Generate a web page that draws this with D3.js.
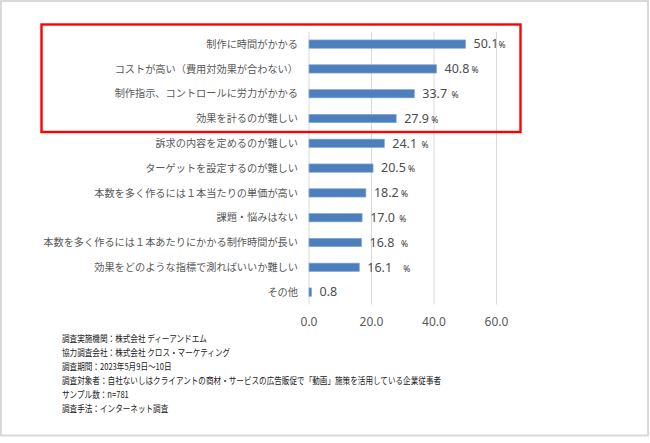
<!DOCTYPE html>
<html>
<head>
<meta charset="utf-8">
<script src="https://d3js.org/d3.v7.min.js"></script>
<style>
  body { margin: 0; background: #fff; }
  text { font-family: "Noto Sans CJK JP", "Noto Sans", sans-serif; }
  text.num { font-family: "Noto Sans", "Open Sans", sans-serif; }
</style>
</head>
<body>
<div id="chart"></div>
<script>
  var categories = [
    "制作に時間がかかる",
    "コストが高い（費用対効果が合わない）",
    "制作指示、コントロールに労力がかかる",
    "効果を計るのが難しい",
    "訴求の内容を定めるのが難しい",
    "ターゲットを設定するのが難しい",
    "本数を多く作るには１本当たりの単価が高い",
    "課題・悩みはない",
    "本数を多く作るには１本あたりにかかる制作時間が長い",
    "効果をどのような指標で測ればいいか難しい",
    "その他"
  ];
  var values = [50.1, 40.8, 33.7, 27.9, 24.1, 20.5, 18.2, 17.0, 16.8, 16.1, 0.8];
  var pctSuffix = ["%", " %", "  %", " %", "  %", " %", " %", "  %", "   %", "     %", ""];
  var xTicks = [0, 20, 40, 60];
  var notes = [
    "調査実施機関：株式会社 ディーアンドエム",
    "協力調査会社：株式会社 クロス・マーケティング",
    "調査期間：2023年5月9日～10日",
    "調査対象者：自社ないしはクライアントの商材・サービスの広告販促で「動画」施策を活用している企業従事者",
    "サンプル数：n=781",
    "調査手法：インターネット調査"
  ];

  var W = 650, H = 443;
  var svg = d3.select("#chart").append("svg")
    .attr("width", W)
    .attr("height", H);

  // outer frame
  svg.append("rect")
    .attr("x", 1).attr("y", 1)
    .attr("width", 647).attr("height", 434.5)
    .attr("fill", "#fff")
    .attr("stroke", "#d9d9d9")
    .attr("stroke-width", 2);

  var x = d3.scaleLinear().domain([0, 60]).range([309, 496.5]);
  var y = d3.scaleBand()
    .domain(categories)
    .range([31.7, 304.5])
    .paddingInner(0.665)
    .paddingOuter(0.3325);

  // gridlines
  svg.selectAll("line.grid")
    .data(xTicks)
    .enter()
    .append("line")
    .attr("class", "grid")
    .attr("x1", function(d) { return x(d); })
    .attr("x2", function(d) { return x(d); })
    .attr("y1", 31.7)
    .attr("y2", 304.5)
    .attr("stroke", "#d9d9d9")
    .attr("stroke-width", 1);

  // x tick labels
  svg.selectAll("text.xtick")
    .data(xTicks)
    .enter()
    .append("text")
    .attr("class", "xtick num")
    .attr("x", function(d) { return x(d); })
    .attr("y", 326)
    .attr("text-anchor", "middle")
    .attr("font-size", 12)
    .attr("fill", "#595959")
    .text(function(d) { return d.toFixed(1); });

  // bars
  svg.selectAll("rect.bar")
    .data(values)
    .enter()
    .append("rect")
    .attr("class", "bar")
    .attr("x", x(0))
    .attr("y", function(d, i) { return y(categories[i]); })
    .attr("width", function(d) { return x(d) - x(0); })
    .attr("height", y.bandwidth())
    .attr("fill", "#4e7fbd")
    .attr("stroke", "#82a8d8")
    .attr("stroke-width", 0.7);

  // category labels
  svg.selectAll("text.cat")
    .data(categories)
    .enter()
    .append("text")
    .attr("class", "cat")
    .attr("x", 298)
    .attr("y", function(d) { return y(d) + y.bandwidth() / 2 + 3.6; })
    .attr("text-anchor", "end")
    .attr("font-size", 10.2)
    .attr("fill", "#595959")
    .text(function(d) { return d; });

  // value labels
  var vl = svg.selectAll("text.val")
    .data(values)
    .enter()
    .append("text")
    .attr("class", "val num")
    .attr("x", function(d) { return x(d) + 8; })
    .attr("y", function(d, i) { return y(categories[i]) + y.bandwidth() / 2 + 4.3; })
    .attr("font-size", 12.5)
    .attr("fill", "#4d4d4d")
    .style("white-space", "pre");
  vl.append("tspan").text(function(d) { return d.toFixed(1); });
  vl.append("tspan")
    .attr("font-size", 8.5)
    .attr("fill", "#333")
    .text(function(d, i) { return pctSuffix[i]; });

  // highlight box
  svg.append("rect")
    .attr("x", 41.5).attr("y", 24.5)
    .attr("width", 479).attr("height", 107.5)
    .attr("fill", "none")
    .attr("stroke", "#ff0000")
    .attr("stroke-width", 2.4);

  // footnotes
  var ng = svg.append("g")
    .attr("transform", "translate(62,0) scale(0.8,1)");
  ng.selectAll("text")
    .data(notes)
    .enter()
    .append("text")
    .attr("x", 0)
    .attr("y", function(d, i) { return 341.8 + i * 14; })
    .attr("font-size", 9.5)
    .attr("fill", "#1a1a1a")
    .text(function(d) { return d; });
</script>
</body>
</html>
